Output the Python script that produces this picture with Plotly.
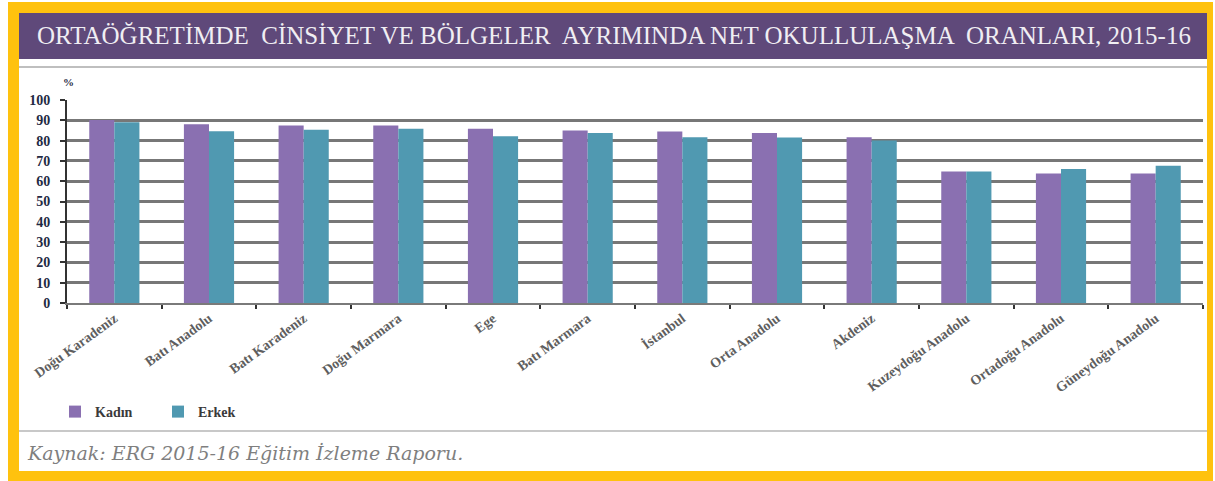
import plotly.graph_objects as go

categories = ["Doğu Karadeniz", "Batı Anadolu", "Batı Karadeniz", "Doğu Marmara", "Ege",
              "Batı Marmara", "İstanbul", "Orta Anadolu", "Akdeniz", "Kuzeydoğu Anadolu",
              "Ortadoğu Anadolu", "Güneydoğu Anadolu"]
kadin = [90.2, 88.0, 87.4, 87.4, 85.8, 85.0, 84.5, 83.8, 81.7, 64.8, 63.8, 63.8]
erkek = [89.0, 84.6, 85.3, 85.8, 82.2, 83.8, 81.7, 81.5, 80.0, 64.8, 66.0, 67.6]
yticks = [0, 10, 20, 30, 40, 50, 60, 70, 80, 90, 100]

W, H = 1215, 481
L, R, T, B = 67, 1203, 100, 303  # plot area in pixels


def px(x):
    return (x - L) / (R - L)


def py(y):
    return (B - y) / (B - T)


fig = go.Figure()
fig.add_trace(go.Bar(name="Kadın", x=categories, y=kadin, marker=dict(color="#8A70B1", line=dict(width=0))))
fig.add_trace(go.Bar(name="Erkek", x=categories, y=erkek, marker=dict(color="#5099B1", line=dict(width=0))))

shapes = [
    dict(type="rect", xref="paper", yref="paper", x0=px(8), x1=px(1213), y0=py(481), y1=py(2),
         fillcolor="#FFC20E", line=dict(width=0), layer="below"),
    dict(type="rect", xref="paper", yref="paper", x0=px(19), x1=px(1207), y0=py(471), y1=py(13),
         fillcolor="white", line=dict(width=0), layer="below"),
    dict(type="rect", xref="paper", yref="paper", x0=px(19), x1=px(1207), y0=py(59), y1=py(13),
         fillcolor="#5F497A", line=dict(width=0), layer="below"),
    dict(type="line", xref="paper", yref="paper", x0=px(19), x1=px(1207), y0=py(67), y1=py(67),
         line=dict(color="#BFBFBF", width=2), layer="below"),
    dict(type="line", xref="paper", yref="paper", x0=px(19), x1=px(1207), y0=py(431), y1=py(431),
         line=dict(color="#C8C8C8", width=2), layer="below"),
]

annotations = [
    dict(text="ORTAÖĞRETİMDE  CİNSİYET VE BÖLGELER  AYRIMINDA NET OKULLULAŞMA  ORANLARI, 2015-16",
         xref="paper", yref="paper", x=px(35), y=py(36), xanchor="left", yanchor="middle",
         showarrow=False, font=dict(family="Liberation Serif", size=25, color="#F0EEF3")),
    dict(text="%", xref="paper", yref="paper", x=px(68), y=py(82), xanchor="center", yanchor="middle",
         showarrow=False, font=dict(family="Liberation Serif", size=11, color="#1F2A44", weight="bold")),
    dict(text="Kaynak: ERG 2015-16 Eğitim İzleme Raporu.", xref="paper", yref="paper",
         x=px(25), y=py(453), xanchor="left", yanchor="middle", showarrow=False,
         font=dict(family="DejaVu Serif", size=19, color="#7F7F7F", style="italic")),
]

fig.update_layout(
    width=W, height=H,
    margin=dict(l=L, r=W - R, t=T, b=H - B, pad=0),
    paper_bgcolor="white", plot_bgcolor="rgba(0,0,0,0)",
    barmode="group", bargap=0.47, bargroupgap=0,
    shapes=shapes, annotations=annotations,
    showlegend=True,
    legend=dict(orientation="h", x=px(55), y=py(412), xanchor="left", yanchor="middle",
                entrywidth=58, entrywidthmode="pixels", traceorder="normal",
                font=dict(family="Liberation Serif", size=14, color="#3A3A3A", weight="bold"),
                bgcolor="rgba(0,0,0,0)"),
    font=dict(family="Liberation Serif"),
)
fig.update_yaxes(range=[0, 100], tickvals=yticks, showgrid=True, gridcolor="#777777", gridwidth=2.5,
                 showline=True, linecolor="#333333", linewidth=2, ticks="outside", ticklen=5,
                 tickcolor="#333333", tickwidth=2, zeroline=False, ticklabelstandoff=7,
                 tickfont=dict(family="Liberation Serif", size=14, color="#1F2A44", weight="bold"),
                 fixedrange=True)
fig.update_xaxes(showline=True, linecolor="#7A7A7A", linewidth=2, ticks="outside", tickson="boundaries",
                 ticklen=4, tickcolor="#333333", tickwidth=2, tickangle=-36,
                 tickfont=dict(family="Liberation Serif", size=14, color="#5E5E5E", weight="bold"),
                 fixedrange=True)

fig.write_html("out.html", config={"displayModeBar": False},
               post_script="document.body.style.margin='0';document.body.style.overflow='hidden';")
